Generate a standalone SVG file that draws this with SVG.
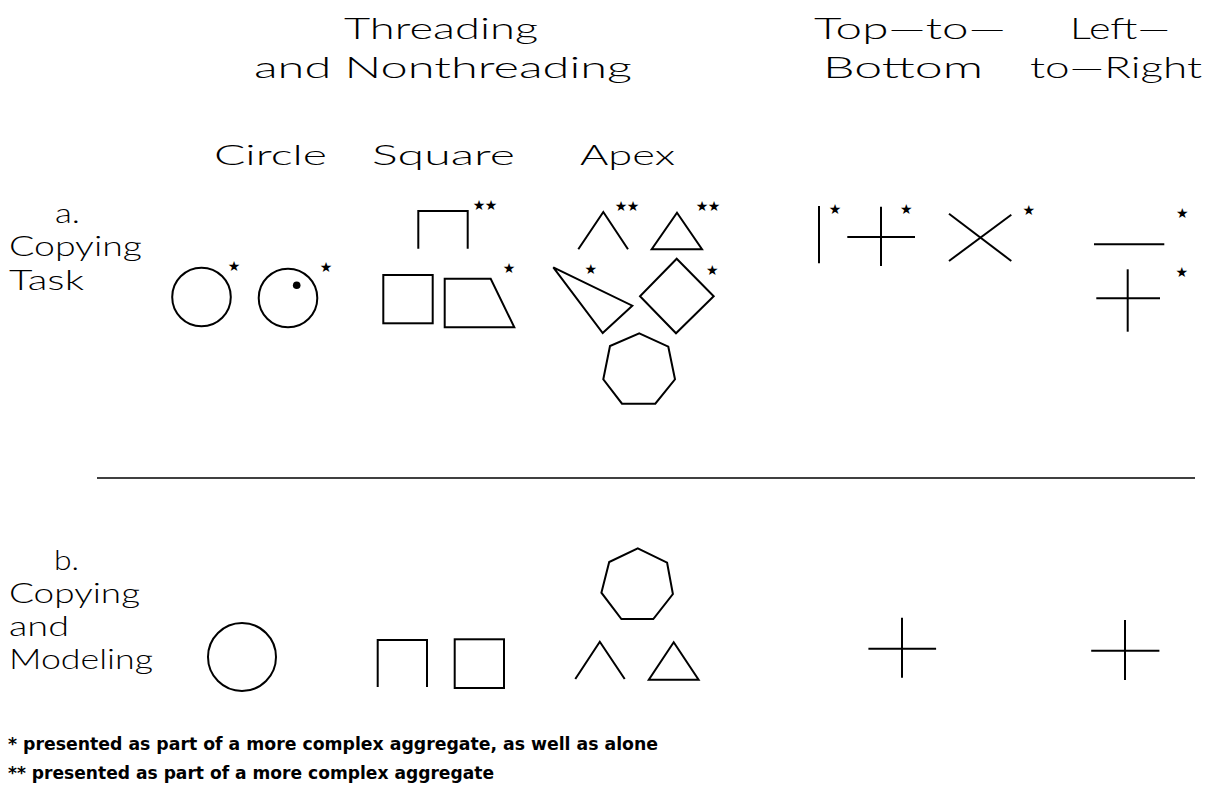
<svg xmlns="http://www.w3.org/2000/svg" width="1218" height="800" viewBox="0 0 1218 800">
<style>
.h{font-family:Lato,'Open Sans','DejaVu Sans',sans-serif;font-size:29px;font-weight:300;fill:#000}
.l{font-family:Lato,'Open Sans','DejaVu Sans',sans-serif;font-size:27px;font-weight:300;fill:#000}
.f{font-family:'DejaVu Sans Condensed','DejaVu Sans',sans-serif;font-size:17px;font-weight:bold;fill:#000}
.st{font-family:'DejaVu Sans',sans-serif;font-size:14px;fill:#000;text-anchor:middle}
.s{fill:none;stroke:#000;stroke-width:2;stroke-linejoin:miter}
</style>
<rect width="1218" height="800" fill="#fff"/>
<g id="headers">
<text class="h" x="344" y="39" textLength="194" lengthAdjust="spacingAndGlyphs">Threading</text>
<text class="h" x="254" y="78" textLength="378" lengthAdjust="spacingAndGlyphs">and Nonthreading</text>
<text class="h" x="814" y="39" textLength="192" lengthAdjust="spacingAndGlyphs">Top—to—</text>
<text class="h" x="823" y="78" textLength="160" lengthAdjust="spacingAndGlyphs">Bottom</text>
<text class="h" x="1070" y="39" textLength="100" lengthAdjust="spacingAndGlyphs">Left—</text>
<text class="h" x="1030" y="78" textLength="172" lengthAdjust="spacingAndGlyphs">to—Right</text>
<text class="l" x="214" y="165" textLength="113" lengthAdjust="spacingAndGlyphs">Circle</text>
<text class="l" x="372" y="165" textLength="143" lengthAdjust="spacingAndGlyphs">Square</text>
<text class="l" x="580" y="165" textLength="95" lengthAdjust="spacingAndGlyphs">Apex</text>
</g>
<g id="row-a-label">
<text class="l" x="55" y="223" textLength="25" lengthAdjust="spacingAndGlyphs">a.</text>
<text class="l" x="9" y="256" textLength="133" lengthAdjust="spacingAndGlyphs">Copying</text>
<text class="l" x="9" y="290" textLength="75" lengthAdjust="spacingAndGlyphs">Task</text>
</g>
<g id="a-circle">
<circle class="s" cx="201.5" cy="297" r="29.3"/>
<text class="st" x="234" y="271">★</text>
</g>
<g id="a-circle-dot">
<circle class="s" cx="288" cy="298" r="29.3"/>
<circle cx="296.7" cy="285.3" r="3.8" fill="#000"/>
<text class="st" x="326" y="271.5">★</text>
</g>
<g id="a-open-square">
<polyline class="s" points="418.3,248.7 418.3,211 467.7,211 467.7,248.7"/>
<text class="st" x="479" y="210">★</text><text class="st" x="491" y="210">★</text>
</g>
<g id="a-square">
<rect class="s" x="383.3" y="275" width="49.4" height="48.3"/>
</g>
<g id="a-trapezoid">
<polygon class="s" points="444.7,278.7 490.7,278.7 514.3,327.3 444.7,327.3"/>
<text class="st" x="509" y="273">★</text>
</g>
<g id="a-caret">
<polyline class="s" points="578.3,249.3 603.3,212 628,249.3"/>
<text class="st" x="621" y="211">★</text><text class="st" x="633" y="211">★</text>
</g>
<g id="a-triangle">
<polygon class="s" points="677,212.7 702,249.3 651.7,249.3"/>
<text class="st" x="702" y="211">★</text><text class="st" x="714" y="211">★</text>
</g>
<g id="a-scalene">
<polygon class="s" points="553.3,267.3 632.3,305.7 602.7,333"/>
<text class="st" x="590.7" y="274">★</text>
</g>
<g id="a-diamond">
<polygon class="s" points="676.7,258.7 713.7,296.3 676,333.3 640,296.3"/>
<text class="st" x="712.3" y="275">★</text>
</g>
<g id="a-heptagon">
<polygon class="s" points="639.3,333.3 668.3,346.7 675,379.3 655.3,403.7 622,403.7 603.3,379.3 610,346"/>
</g>
<g id="a-vertical">
<line class="s" x1="819" y1="206" x2="819" y2="263.3"/>
<text class="st" x="835" y="213.5">★</text>
</g>
<g id="a-cross">
<line class="s" x1="881" y1="206.7" x2="881" y2="266"/>
<line class="s" x1="847.3" y1="237" x2="915" y2="237"/>
<text class="st" x="906.3" y="214">★</text>
</g>
<g id="a-x">
<line class="s" x1="949" y1="213.7" x2="1011.3" y2="261"/>
<line class="s" x1="949" y1="261" x2="1011.3" y2="214.7"/>
<text class="st" x="1028.7" y="215">★</text>
</g>
<g id="a-horizontal">
<line class="s" x1="1094" y1="244.3" x2="1164.3" y2="244.3"/>
<text class="st" x="1182.3" y="217.5">★</text>
</g>
<g id="a-cross-lr">
<line class="s" x1="1127.7" y1="269.3" x2="1127.7" y2="331.7"/>
<line class="s" x1="1096.3" y1="298.3" x2="1160" y2="298.3"/>
<text class="st" x="1181.7" y="276.5">★</text>
</g>
<g id="divider">
<line x1="97" y1="478" x2="1195" y2="478" stroke="#000" stroke-width="1.5"/>
</g>
<g id="row-b-label">
<text class="l" x="54" y="570" textLength="25" lengthAdjust="spacingAndGlyphs">b.</text>
<text class="l" x="9" y="603" textLength="131" lengthAdjust="spacingAndGlyphs">Copying</text>
<text class="l" x="9" y="636" textLength="60" lengthAdjust="spacingAndGlyphs">and</text>
<text class="l" x="9" y="669" textLength="144" lengthAdjust="spacingAndGlyphs">Modeling</text>
</g>
<g id="b-circle">
<circle class="s" cx="242" cy="657" r="34"/>
</g>
<g id="b-open-square">
<polyline class="s" points="377.7,687 377.7,640 427,640 427,687"/>
</g>
<g id="b-square">
<rect class="s" x="454.7" y="639.3" width="49.3" height="48.7"/>
</g>
<g id="b-heptagon">
<polygon class="s" points="637.8,548.3 667.1,562.7 672.9,594 653.3,619 621.4,619 601.4,592.7 609.2,562"/>
</g>
<g id="b-caret">
<polyline class="s" points="575.3,679 599.8,641.7 624.7,679"/>
</g>
<g id="b-triangle">
<polygon class="s" points="673.7,642.3 698.6,679.7 648.8,679.7"/>
</g>
<g id="b-cross-tb">
<line class="s" x1="902" y1="617.7" x2="902" y2="677.7"/>
<line class="s" x1="868.4" y1="648.7" x2="936.1" y2="648.7"/>
</g>
<g id="b-cross-lr">
<line class="s" x1="1125" y1="620" x2="1125" y2="680"/>
<line class="s" x1="1091.2" y1="650.7" x2="1159.4" y2="650.7"/>
</g>
<g id="footnotes">
<text class="f" x="8" y="750" textLength="650" lengthAdjust="spacingAndGlyphs">* presented as part of a more complex aggregate, as well as alone</text>
<text class="f" x="8" y="779" textLength="486" lengthAdjust="spacingAndGlyphs">** presented as part of a more complex aggregate</text>
</g>
</svg>
